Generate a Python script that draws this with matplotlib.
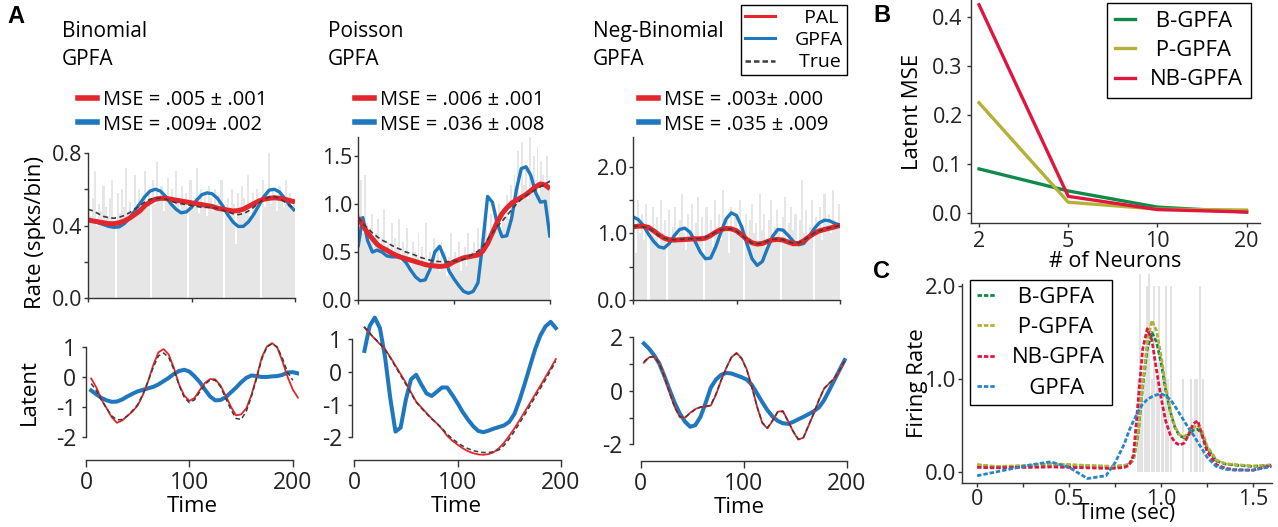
import numpy as np
import matplotlib
matplotlib.use('Agg')
import matplotlib.pyplot as plt
from matplotlib.lines import Line2D

# ---------------- data ----------------
# top row: rates (spks/bin), sampled every 5 time bins
t_rate = list(range(0, 201, 5))
bar_t = list(range(0, 200, 2))

bin_pal = [0.43, 0.425, 0.42, 0.415, 0.41, 0.41, 0.415, 0.425, 0.44, 0.46, 0.48, 0.51, 0.53, 0.545,
           0.55, 0.55, 0.545, 0.54, 0.535, 0.53, 0.525, 0.52, 0.515, 0.51, 0.505, 0.495, 0.49, 0.485,
           0.48, 0.482, 0.49, 0.505, 0.52, 0.535, 0.545, 0.55, 0.553, 0.55, 0.545, 0.537, 0.53]
bin_gpfa = [0.43, 0.425, 0.415, 0.405, 0.395, 0.39, 0.392, 0.41, 0.44, 0.48, 0.52, 0.56, 0.59, 0.60,
            0.59, 0.56, 0.52, 0.49, 0.47, 0.475, 0.50, 0.54, 0.57, 0.58, 0.575, 0.55, 0.51, 0.46,
            0.42, 0.395, 0.395, 0.42, 0.46, 0.51, 0.56, 0.595, 0.60, 0.585, 0.55, 0.51, 0.48]
bin_true = [0.49, 0.48, 0.465, 0.45, 0.443, 0.44, 0.445, 0.455, 0.47, 0.49, 0.51, 0.53, 0.545, 0.55,
            0.55, 0.545, 0.535, 0.525, 0.52, 0.515, 0.51, 0.505, 0.50, 0.50, 0.50, 0.495, 0.485, 0.475,
            0.465, 0.46, 0.465, 0.48, 0.50, 0.525, 0.545, 0.555, 0.56, 0.55, 0.53, 0.51, 0.49]
bin_bars = [0.60, 0.45, 0.55, 0.70, 0.40, 0.52, 0.48, 0.62, 0.50, 0.45,
            0.55, 0.65, 0.42, 0.00, 0.58, 0.47, 0.60, 0.50, 0.72, 0.48,
            0.53, 0.45, 0.68, 0.52, 0.60, 0.47, 0.55, 0.70, 0.50, 0.58,
            0.00, 0.65, 0.52, 0.75, 0.55, 0.62, 0.48, 0.57, 0.66, 0.52,
            0.60, 0.50, 0.70, 0.55, 0.48, 0.62, 0.53, 0.58, 0.00, 0.65,
            0.50, 0.55, 0.72, 0.47, 0.60, 0.52, 0.58, 0.45, 0.62, 0.55,
            0.48, 0.60, 0.52, 0.57, 0.65, 0.00, 0.50, 0.55, 0.45, 0.60,
            0.52, 0.30, 0.58, 0.48, 0.62, 0.55, 0.50, 0.68, 0.45, 0.58,
            0.52, 0.60, 0.55, 0.00, 0.65, 0.50, 0.58, 0.80, 0.52, 0.60,
            0.55, 0.48, 0.62, 0.57, 0.50, 0.65, 0.53, 0.58, 0.50, 0.55]

poi_pal = [0.86, 0.78, 0.70, 0.64, 0.58, 0.545, 0.52, 0.49, 0.465, 0.445, 0.43, 0.415, 0.40, 0.385,
           0.37, 0.36, 0.355, 0.35, 0.355, 0.37, 0.40, 0.42, 0.44, 0.45, 0.46, 0.47, 0.51, 0.59,
           0.70, 0.81, 0.90, 0.96, 1.01, 1.04, 1.07, 1.10, 1.14, 1.18, 1.21, 1.20, 1.16]
poi_gpfa = [0.55, 0.86, 0.62, 0.50, 0.52, 0.50, 0.46, 0.45, 0.45, 0.44, 0.39, 0.31, 0.24, 0.20,
            0.21, 0.32, 0.50, 0.56, 0.44, 0.30, 0.22, 0.15, 0.09, 0.07, 0.09, 0.18, 0.60, 1.08,
            1.02, 0.80, 0.66, 0.67, 0.85, 1.15, 1.37, 1.39, 1.30, 1.12, 1.02, 1.03, 0.65]
poi_true = [0.86, 0.80, 0.75, 0.70, 0.66, 0.625, 0.60, 0.57, 0.545, 0.525, 0.50, 0.485, 0.465, 0.445,
            0.43, 0.415, 0.405, 0.40, 0.40, 0.40, 0.405, 0.41, 0.425, 0.45, 0.48, 0.51, 0.56, 0.63,
            0.70, 0.77, 0.82, 0.88, 0.94, 1.00, 1.05, 1.09, 1.12, 1.15, 1.18, 1.21, 1.24]
poi_bars = [0.90, 1.25, 0.70, 1.30, 0.80, 0.60, 0.75, 0.90, 0.55, 0.70,
            0.85, 0.50, 0.65, 0.95, 0.55, 0.60, 0.45, 0.80, 0.50, 0.65,
            0.55, 0.85, 0.40, 0.60, 0.50, 0.75, 0.45, 0.30, 0.60, 0.50,
            0.45, 0.70, 0.35, 0.55, 0.40, 0.80, 0.30, 0.50, 0.45, 0.65,
            0.40, 0.55, 0.30, 0.60, 0.35, 0.50, 0.25, 0.45, 0.70, 0.35,
            0.50, 0.40, 0.60, 0.30, 0.45, 0.55, 0.35, 0.70, 0.45, 0.50,
            0.60, 0.45, 0.75, 0.50, 0.65, 0.55, 0.80, 0.60, 0.70, 0.90,
            0.65, 0.85, 0.75, 1.00, 0.70, 0.95, 0.80, 1.10, 0.85, 1.20,
            0.90, 1.30, 1.00, 1.55, 1.10, 1.65, 1.20, 1.40, 1.05, 1.70,
            1.15, 1.50, 1.25, 1.60, 1.10, 1.45, 1.30, 1.20, 1.50, 1.25]

nb_pal = [1.10, 1.11, 1.11, 1.09, 1.04, 0.98, 0.93, 0.905, 0.90, 0.905, 0.91, 0.915, 0.92, 0.92,
          0.93, 0.97, 1.02, 1.06, 1.075, 1.07, 1.04, 0.98, 0.91, 0.86, 0.84, 0.85, 0.88, 0.905,
          0.91, 0.90, 0.87, 0.845, 0.85, 0.89, 0.95, 1.00, 1.04, 1.06, 1.08, 1.10, 1.12]
nb_gpfa = [1.25, 1.21, 1.12, 0.99, 0.88, 0.80, 0.78, 0.85, 0.97, 1.06, 1.08, 1.02, 0.88, 0.72,
           0.62, 0.63, 0.80, 1.02, 1.22, 1.31, 1.27, 1.10, 0.85, 0.62, 0.52, 0.58, 0.78, 0.96,
           1.06, 1.05, 0.97, 0.88, 0.83, 0.85, 0.95, 1.07, 1.16, 1.20, 1.19, 1.15, 1.13]
nb_true = [1.11, 1.11, 1.10, 1.08, 1.03, 0.97, 0.93, 0.91, 0.905, 0.91, 0.915, 0.92, 0.92, 0.925,
           0.94, 0.975, 1.02, 1.055, 1.07, 1.065, 1.035, 0.975, 0.905, 0.855, 0.845, 0.855, 0.885, 0.91,
           0.915, 0.905, 0.875, 0.85, 0.86, 0.90, 0.955, 1.005, 1.04, 1.065, 1.085, 1.10, 1.12]
nb_bars = [1.20, 0.70, 1.50, 1.00, 1.30, 0.90, 1.45, 0.00, 1.10, 1.40,
           0.95, 1.25, 0.80, 1.50, 1.00, 1.20, 0.00, 1.35, 0.90, 1.10,
           1.40, 0.85, 1.20, 1.60, 1.00, 0.75, 1.30, 1.05, 1.45, 0.90,
           1.15, 1.55, 0.95, 1.25, 0.00, 1.40, 1.00, 1.20, 0.80, 1.50,
           1.10, 1.30, 0.90, 1.65, 1.05, 1.20, 0.70, 1.40, 1.00, 1.25,
           0.95, 1.50, 1.10, 0.00, 1.30, 0.85, 1.20, 1.45, 1.00, 1.15,
           0.90, 1.60, 1.05, 1.30, 0.80, 1.20, 1.50, 0.95, 1.10, 1.35,
           1.00, 0.00, 1.25, 1.55, 0.90, 1.15, 1.40, 1.05, 1.30, 0.85,
           1.20, 1.80, 1.00, 1.35, 0.95, 1.10, 1.50, 0.00, 1.25, 1.05,
           1.40, 0.90, 1.60, 1.15, 1.30, 1.00, 1.65, 1.20, 1.10, 1.45]

# bottom row: latents
t_lat1 = list(range(5, 206, 5))
lat1_pal = [-0.05, -0.35, -0.75, -1.05, -1.35, -1.53, -1.45, -1.30, -1.15, -0.95, -0.60, -0.15, 0.39,
            0.82, 0.93, 0.75, 0.30, -0.25, -0.62, -0.80, -0.70, -0.44, -0.20, -0.07, -0.08, -0.28,
            -0.62, -0.98, -1.28, -1.25, -1.05, -0.60, 0.0, 0.65, 1.02, 1.13, 0.98, 0.52, 0.0, -0.42, -0.69]
lat1_gpfa = [-0.45, -0.58, -0.70, -0.78, -0.83, -0.82, -0.75, -0.65, -0.56, -0.48, -0.43, -0.38, -0.33,
             -0.25, -0.14, -0.03, 0.10, 0.20, 0.24, 0.18, 0.02, -0.17, -0.42, -0.65, -0.78, -0.77,
             -0.68, -0.52, -0.36, -0.18, -0.03, 0.05, 0.03, 0.0, 0.0, 0.02, 0.03, 0.07, 0.15, 0.16, 0.12]
lat1_true = [-0.22, -0.45, -0.78, -1.05, -1.30, -1.43, -1.42, -1.30, -1.12, -0.92, -0.58, -0.15, 0.32,
             0.70, 0.80, 0.65, 0.25, -0.28, -0.68, -0.86, -0.76, -0.50, -0.25, -0.10, -0.11, -0.32,
             -0.70, -1.08, -1.38, -1.42, -1.15, -0.65, -0.05, 0.60, 1.00, 1.11, 1.00, 0.62, 0.15, -0.11]

t_lat2 = list(range(10, 196, 5))
lat2_pal = [1.37, 1.19, 1.02, 0.86, 0.70, 0.46, 0.20, -0.06, -0.32, -0.62, -0.90, -1.08, -1.25, -1.42,
            -1.57, -1.74, -1.95, -2.10, -2.22, -2.33, -2.42, -2.48, -2.52, -2.53, -2.51, -2.45, -2.33,
            -2.16, -1.95, -1.72, -1.47, -1.21, -0.95, -0.68, -0.42, -0.15, 0.12, 0.40]
lat2_gpfa = [0.65, 1.41, 1.67, 1.35, 0.45, -0.80, -1.82, -1.70, -0.85, -0.22, -0.08, -0.38, -0.65, -0.73,
             -0.60, -0.47, -0.47, -0.70, -0.95, -1.22, -1.45, -1.65, -1.80, -1.84, -1.79, -1.73, -1.68,
             -1.63, -1.52, -1.28, -0.85, -0.35, 0.18, 0.70, 1.12, 1.40, 1.54, 1.35]
lat2_true = [1.39, 1.20, 1.03, 0.87, 0.69, 0.44, 0.17, -0.10, -0.37, -0.65, -0.92, -1.10, -1.27, -1.43,
             -1.57, -1.72, -1.90, -2.04, -2.16, -2.26, -2.34, -2.40, -2.44, -2.46, -2.46, -2.44, -2.38,
             -2.24, -2.04, -1.81, -1.56, -1.30, -1.03, -0.76, -0.50, -0.23, 0.05, 0.33]

t_lat3 = list(range(3, 199, 5))
lat3_pal = [1.05, 1.25, 1.28, 1.05, 0.55, -0.05, -0.60, -0.98, -1.00, -0.82, -0.68, -0.60, -0.58, -0.55,
            -0.15, 0.38, 0.85, 1.25, 1.42, 1.22, 0.80, 0.15, -0.59, -1.20, -1.40, -1.12, -0.78, -0.75,
            -1.12, -1.52, -1.82, -1.75, -1.30, -0.85, -0.35, 0.08, 0.28, 0.45, 0.75, 1.10]
lat3_gpfa = [1.77, 1.58, 1.33, 1.02, 0.55, 0.04, -0.45, -0.85, -1.15, -1.34, -1.28, -0.97, -0.45, 0.12,
             0.42, 0.60, 0.67, 0.65, 0.58, 0.51, 0.42, 0.22, -0.10, -0.42, -0.72, -0.96, -1.12, -1.21,
             -1.23, -1.16, -1.06, -0.97, -0.87, -0.76, -0.62, -0.35, 0.02, 0.40, 0.78, 1.15]
lat3_true = [1.08, 1.27, 1.27, 1.03, 0.52, -0.08, -0.62, -0.97, -0.99, -0.83, -0.69, -0.61, -0.59, -0.53,
             -0.12, 0.40, 0.86, 1.25, 1.40, 1.20, 0.78, 0.12, -0.60, -1.18, -1.38, -1.10, -0.79, -0.77,
             -1.13, -1.50, -1.80, -1.73, -1.28, -0.83, -0.33, 0.09, 0.29, 0.47, 0.77, 1.11]

# panel B
neurons = ['2', '5', '10', '20']
mse_b = [0.090, 0.045, 0.012, 0.002]
mse_p = [0.225, 0.022, 0.008, 0.006]
mse_nb = [0.425, 0.034, 0.007, 0.002]

# panel C
t_c = [0.0, 0.1, 0.2, 0.3, 0.4, 0.5, 0.6, 0.7, 0.75, 0.8, 0.825, 0.85, 0.875, 0.9, 0.925, 0.95, 0.975,
       1.0, 1.025, 1.05, 1.075, 1.1, 1.125, 1.15, 1.175, 1.2, 1.225, 1.25, 1.3, 1.35, 1.4, 1.5, 1.6]
fr_b = [0.075, 0.055, 0.06, 0.07, 0.085, 0.075, 0.065, 0.06, 0.06, 0.07, 0.08, 0.13, 0.40, 0.92, 1.32,
        1.50, 1.40, 1.18, 0.88, 0.65, 0.48, 0.39, 0.37, 0.40, 0.45, 0.46, 0.40, 0.26, 0.12, 0.085,
        0.075, 0.06, 0.075]
fr_p = [0.08, 0.06, 0.065, 0.075, 0.09, 0.08, 0.07, 0.065, 0.06, 0.07, 0.08, 0.14, 0.42, 0.95, 1.40,
        1.63, 1.52, 1.25, 0.92, 0.66, 0.49, 0.40, 0.38, 0.42, 0.48, 0.50, 0.43, 0.28, 0.13, 0.09,
        0.08, 0.065, 0.075]
fr_nb = [0.05, 0.045, 0.05, 0.05, 0.055, 0.05, 0.045, 0.04, 0.04, 0.05, 0.07, 0.18, 0.75, 1.32, 1.54,
         1.42, 1.10, 0.80, 0.55, 0.40, 0.32, 0.29, 0.31, 0.40, 0.52, 0.55, 0.38, 0.22, 0.08, 0.04,
         0.025, 0.02, 0.07]
fr_g = [-0.04, 0.0, 0.04, 0.08, 0.11, 0.05, -0.07, -0.04, 0.10, 0.30, 0.44, 0.55, 0.65, 0.73, 0.78,
        0.81, 0.83, 0.84, 0.82, 0.78, 0.71, 0.63, 0.55, 0.47, 0.40, 0.32, 0.24, 0.16, 0.06, 0.03,
        0.02, 0.02, 0.06]
spike_t = [0.877, 0.886, 0.895, 0.913, 0.922, 0.935, 0.949, 0.962, 0.976, 0.989, 1.004, 1.013, 1.025,
           1.040, 1.052, 1.118, 1.161, 1.185, 1.197, 1.212, 1.226]
spike_h = [1.0, 2.13, 1.0, 1.0, 2.0, 2.13, 1.0, 2.0, 1.0, 2.0, 1.0, 1.0, 2.0, 1.0, 2.0, 1.0, 1.0, 1.0,
           1.0, 2.0, 1.0]

# ---------------- style ----------------
plt.rcParams['font.family'] = ['Open Sans', 'DejaVu Sans']
plt.rcParams['axes.unicode_minus'] = False

RED = '#e3262b'
BLUE = '#1f78bd'
TRUE = '#3d3d3d'
BAR = '#e6e6e6'
SPINE = '#333333'
C_B = '#0f8a48'
C_P = '#b5b036'
C_NB = '#de1640'

W, H = 1278, 527
fig = plt.figure(figsize=(W / 100, H / 100), dpi=100)


def px_axes(l, t, r, b):
    return fig.add_axes([l / W, 1 - b / H, (r - l) / W, (b - t) / H])


def style(ax, fs, pad=2):
    for s in ['top', 'right']:
        ax.spines[s].set_visible(False)
    for s in ['left', 'bottom']:
        ax.spines[s].set_color(SPINE)
        ax.spines[s].set_linewidth(1.0)
    ax.tick_params(length=3, width=1, color=SPINE, labelsize=fs, labelcolor='#222222', pad=pad)


dash_true = (0, (3, 2))

# ---------------- panel A, top row ----------------
tops = [
    (px_axes(88, 153, 295, 298), bin_bars, bin_pal, bin_gpfa, bin_true, 0.8,
     [0, 0.2, 0.4, 0.6, 0.8], ['0.0', '', '0.4', '', '0.8']),
    (px_axes(358, 137, 550, 300), poi_bars, poi_pal, poi_gpfa, poi_true, 1.7,
     [0, 0.5, 1.0, 1.5], ['0.0', '0.5', '1.0', '1.5']),
    (px_axes(633, 137, 840, 300), nb_bars, nb_pal, nb_gpfa, nb_true, 2.45,
     [0, 0.5, 1.0, 1.5, 2.0], ['0.0', '', '1.0', '', '2.0']),
]
for ax, bars, pal, gp, tr, ytop, yt, yl in tops:
    ax.bar(bar_t, bars, width=2, align='edge', color=BAR, linewidth=0)
    ax.plot(t_rate, gp, color=BLUE, lw=2.4, solid_capstyle='butt')
    ax.plot(t_rate, pal, color=RED, lw=3.6, solid_capstyle='butt')
    ax.plot(t_rate, tr, color=TRUE, lw=1.2, ls=dash_true)
    ax.set_xlim(0, 200)
    ax.set_ylim(0, ytop)
    ax.set_xticks([0, 100, 200])
    ax.set_xticklabels([])
    ax.set_yticks(yt)
    ax.set_yticklabels(yl)
    style(ax, 15.5, pad=1)
tops[0][0].set_ylabel('Rate (spks/bin)', fontsize=16)
tops[0][0].yaxis.set_label_coords(-0.205, 0.455)

# titles
for x0, name in [(62, 'Binomial'), (328, 'Poisson'), (593, 'Neg-Binomial')]:
    fig.text(x0 / W, 1 - 37 / H, name, fontsize=15, va='baseline', ha='left')
    fig.text(x0 / W, 1 - 65 / H, 'GPFA', fontsize=15, va='baseline', ha='left')

# MSE legends
mse_labels = [('MSE = .005 ± .001', 'MSE = .009± .002', 78),
              ('MSE = .006 ± .001', 'MSE = .036 ± .008', 355),
              ('MSE = .003± .000', 'MSE = .035 ± .009', 639)]
for lab_r, lab_b, x0 in mse_labels:
    hs = [Line2D([], [], color=RED, lw=4), Line2D([], [], color=BLUE, lw=4)]
    fig.legend(hs, [lab_r, lab_b], loc='center left', bbox_to_anchor=(x0 / W, 1 - 112.5 / H),
               frameon=False, borderpad=0, borderaxespad=0, handlelength=0.95,
               handletextpad=0.3, labelspacing=0.2, fontsize=14.5)

# PAL / GPFA / True legend
hs = [Line2D([], [], color=RED, lw=2.2), Line2D([], [], color=BLUE, lw=2.2),
      Line2D([], [], color=TRUE, lw=1.8, ls=(0, (2.2, 1.2)))]
leg = fig.legend(hs, ['  PAL', 'GPFA', ' True'], loc='upper left', bbox_to_anchor=(741 / W, 1 - 5 / H),
                 frameon=True, fancybox=False, edgecolor='black', framealpha=1, fontsize=14,
                 handlelength=1.55, handletextpad=1.0, labelspacing=0.22, borderpad=0.2, borderaxespad=0)
leg.get_frame().set_linewidth(1.0)

# ---------------- panel A, bottom row ----------------
bots = [
    (px_axes(86, 339.5, 299, 460), t_lat1, lat1_pal, lat1_gpfa, lat1_true, (-2.77, 1.25), (0, 206),
     [1, 0, -1, -2], ['1', '0', '-1', '-2'], (-2, 1)),
    (px_axes(352, 315, 561, 460), t_lat2, lat2_pal, lat2_gpfa, lat2_true, (-2.69, 1.75), (-2, 200),
     [1, 0, -1, -2], ['1', '0', '-1', '-2'], (-2, 1)),
    (px_axes(632.5, 336, 846.7, 460.5), t_lat3, lat3_pal, lat3_gpfa, lat3_true, (-2.6, 2.05), (-8, 200),
     [2, 1, 0, -1, -2], ['2', '', '0', '', '-2'], (-2, 2)),
]
for ax, tt, pal, gp, tr, ylim, xlim, yt, yl, yb in bots:
    ax.plot(tt, gp, color=BLUE, lw=2.9)
    ax.plot(tt, pal, color=RED, lw=1.3)
    ax.plot(tt[:len(tr)], tr, color=TRUE, lw=1.1, ls=dash_true)
    ax.set_ylim(*ylim)
    ax.set_xlim(*xlim)
    ax.set_yticks(yt)
    ax.set_yticklabels(yl)
    ax.set_xticks([0, 100, 200])
    ax.set_xticklabels(['0', '100', '200'])
    ax.spines['left'].set_bounds(*yb)
    ax.spines['bottom'].set_bounds(0, 200)
    style(ax, 16.5, pad=4)
    ax.tick_params(axis='x', length=5, pad=3)
    ax.set_xlabel('Time', fontsize=16, labelpad=1)
bots[0][0].set_ylabel('Latent', fontsize=16)
bots[0][0].yaxis.set_label_coords(-0.215, 0.564)

# ---------------- panel B ----------------
axb = px_axes(971, 0, 1260, 223)
xb = np.arange(len(neurons))
axb.plot(xb, mse_b, color=C_B, lw=2.4, label=' B-GPFA')
axb.plot(xb, mse_p, color=C_P, lw=2.4, label=' P-GPFA')
axb.plot(xb, mse_nb, color=C_NB, lw=2.4, label='NB-GPFA')
axb.set_xlim(-0.09, 3.15)
axb.set_ylim(-0.0204, 0.4347)
axb.set_xticks(xb)
axb.set_xticklabels(neurons)
axb.set_yticks([0, 0.1, 0.2, 0.3, 0.4])
axb.set_yticklabels(['0.0', '0.1', '0.2', '0.3', '0.4'])
style(axb, 15.5, pad=3)
axb.set_ylabel('Latent MSE', fontsize=16)
axb.yaxis.set_label_coords(-0.165, 0.498)
axb.set_xlabel('# of Neurons', fontsize=15.5, labelpad=-1)
legb = fig.legend(*axb.get_legend_handles_labels(), loc='upper left', bbox_to_anchor=(1107 / W, 1 - 3 / H),
                  frameon=True, fancybox=False, edgecolor='black', framealpha=1, fontsize=16,
                  handlelength=0.9, handletextpad=0.7, labelspacing=0.38, borderpad=0.34, borderaxespad=0)
legb.get_frame().set_linewidth(1.0)

# ---------------- panel C ----------------
axc = px_axes(962, 273, 1272, 483)
axc.bar(spike_t, spike_h, width=0.011, color='#e2e2e2', linewidth=0)
dash_c = (0, (1.6, 0.7))
axc.plot(t_c, fr_b, color=C_B, lw=2.0, ls=dash_c, label=' B-GPFA')
axc.plot(t_c, fr_p, color=C_P, lw=2.0, ls=dash_c, label=' P-GPFA')
axc.plot(t_c, fr_nb, color=C_NB, lw=2.0, ls=dash_c, label='NB-GPFA')
axc.plot(t_c, fr_g, color='#2a85c6', lw=2.0, ls=dash_c, label='   GPFA')
axc.set_xlim(-0.082, 1.603)
axc.set_ylim(-0.118, 2.14)
axc.set_xticks([0, 0.5, 1.0, 1.5])
axc.set_xticklabels(['0', '0.5', '1.0', '1.5'])
axc.set_xticks([0.25, 0.75, 1.25], minor=True)
axc.set_yticks([0, 1, 2])
axc.set_yticklabels(['0.0', '1.0', '2.0'])
axc.spines['left'].set_bounds(-0.118, 2.02)
style(axc, 16, pad=1)
axc.tick_params(axis='x', pad=1, labelsize=15.5)
axc.tick_params(which='minor', length=3, width=1, color=SPINE)
axc.set_ylabel('Firing Rate', fontsize=16)
axc.yaxis.set_label_coords(-0.11, 0.476)
axc.set_xlabel('Time (sec)', fontsize=15)
axc.xaxis.set_label_coords(0.532, -0.095)
legc = axc.legend(loc='upper left', bbox_to_anchor=(970 / W, 1 - 280 / H), bbox_transform=fig.transFigure,
                  frameon=True, fancybox=False, edgecolor='black', framealpha=1, fontsize=16,
                  handlelength=0.85, handletextpad=0.75, labelspacing=0.42, borderpad=0.3, borderaxespad=0)
legc.get_frame().set_linewidth(1.0)

# panel letters
for x0, y0, s in [(7, 23, 'A'), (873, 22, 'B'), (873, 278, 'C')]:
    fig.text(x0 / W, 1 - y0 / H, s, fontsize=17, fontweight='bold', family='Liberation Sans', va='baseline')

fig.savefig('out.png', dpi=100)
